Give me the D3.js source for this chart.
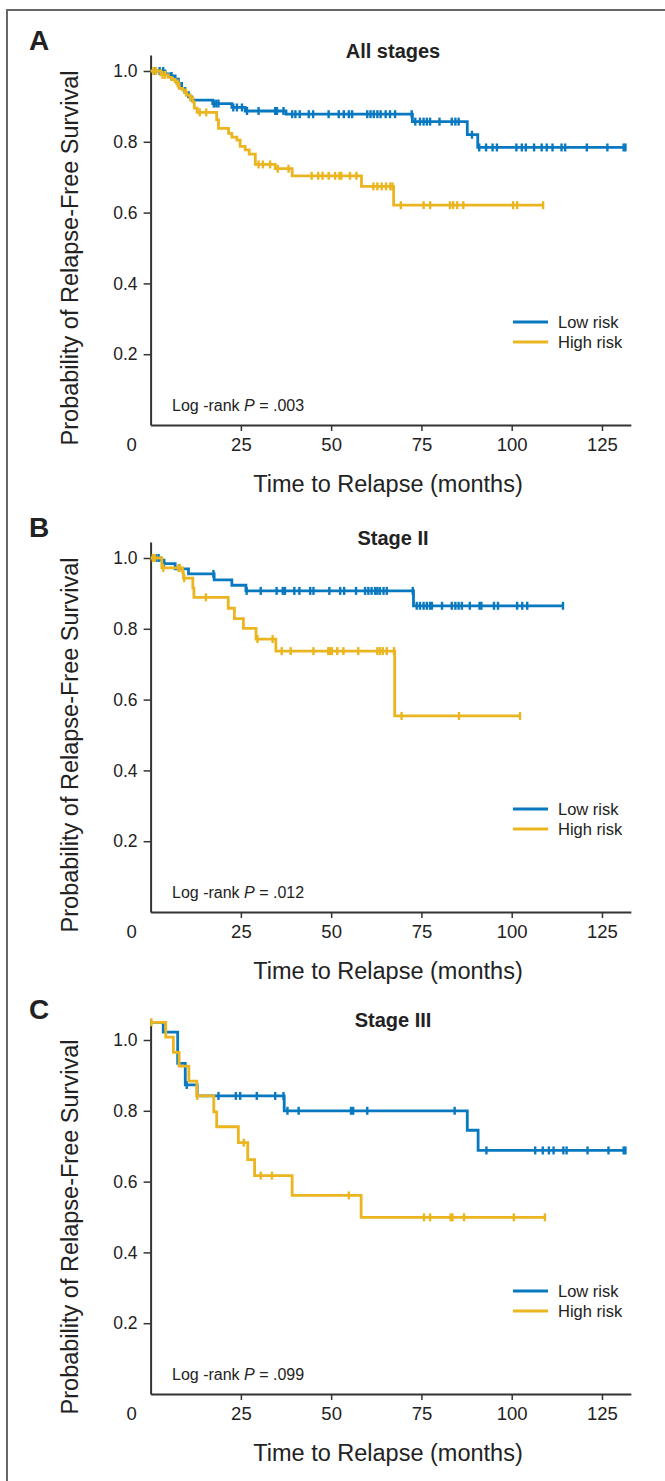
<!DOCTYPE html>
<html>
<head>
<meta charset="utf-8">
<script src="https://cdn.jsdelivr.net/npm/d3@7"></script>
<style>
body { margin: 0; background: #fff; }
svg { display: block; font-family: 'Liberation Sans', Arial, Helvetica, sans-serif; }
</style>
</head>
<body>
<div id="content"></div>
<script>
'use strict';

var xTicks = [25, 50, 75, 100, 125];
var yTicks = [0.2, 0.4, 0.6, 0.8, 1.0];
var seriesNames = ['Low risk', 'High risk'];
var panelLabels = ['A', 'B', 'C'];
var panelTitles = ['All stages', 'Stage II', 'Stage III'];
var pValues = ['.003', '.012', '.099'];
var startValues = [1.0, 1.0, 1.05];

// events: [month, survival after the drop]; censored: months
var allLowEvents = [[4.0, 0.992], [5.4, 0.986], [6.8, 0.977], [7.7, 0.965], [8.6, 0.951], [9.5, 0.939], [10.5, 0.927], [11.4, 0.918], [17.2, 0.908], [22.5, 0.897], [26.2, 0.887], [37.5, 0.878], [72.5, 0.857], [87.7, 0.82], [90.6, 0.784]];
var allLowCensored = [1.0, 2.5, 3.5, 5.8, 17.5, 18.2, 18.8, 22.9, 23.9, 25.3, 26.7, 29.9, 34.5, 35.0, 36.8, 39.2, 40.1, 41.3, 43.8, 45.0, 49.3, 52.1, 53.5, 54.9, 55.8, 60.0, 60.9, 61.8, 62.8, 63.7, 65.1, 66.3, 67.7, 72.3, 73.3, 74.6, 75.6, 76.5, 77.4, 80.0, 83.4, 84.4, 85.3, 89.0, 91.0, 92.9, 94.7, 95.9, 101.3, 102.8, 103.9, 106.2, 108.3, 109.7, 111.3, 113.8, 114.8, 120.8, 126.5, 131.0, 131.5];
var allHighEvents = [[2.8, 0.989], [4.9, 0.982], [5.8, 0.976], [6.8, 0.970], [7.2, 0.965], [7.9, 0.951], [8.9, 0.946], [9.5, 0.939], [10.0, 0.932], [10.9, 0.925], [11.7, 0.913], [12.1, 0.895], [12.9, 0.883], [18.3, 0.862], [18.8, 0.838], [21.6, 0.824], [22.5, 0.813], [23.9, 0.805], [24.8, 0.787], [26.2, 0.777], [27.3, 0.765], [29.0, 0.736], [34.5, 0.724], [39.2, 0.704], [58.4, 0.674], [67.3, 0.621]];
var allHighCensored = [0.8, 1.5, 3.3, 4.0, 7.5, 9.8, 11.0, 13.6, 15.4, 29.9, 31.1, 33.1, 35.2, 38.2, 44.6, 46.4, 47.6, 49.3, 51.1, 52.3, 52.8, 55.2, 57.0, 61.7, 62.8, 64.0, 65.2, 66.4, 67.0, 69.3, 75.6, 77.4, 82.9, 83.8, 84.9, 86.6, 100.4, 101.5, 108.7];

var stage2LowEvents = [[2.8, 0.994], [3.7, 0.984], [6.8, 0.969], [10.5, 0.955], [17.6, 0.938], [22.5, 0.923], [26.4, 0.907], [72.8, 0.865]];
var stage2LowCensored = [0.8, 1.5, 2.2, 3.7, 17.4, 26.6, 30.5, 34.9, 36.6, 37.2, 39.8, 41.2, 44.2, 45.1, 49.5, 52.5, 53.6, 56.9, 59.4, 60.3, 61.2, 62.2, 62.8, 63.5, 64.5, 65.4, 72.6, 73.7, 74.6, 75.6, 76.5, 77.4, 77.9, 80.7, 83.4, 84.4, 85.3, 86.2, 88.4, 91.1, 91.6, 95.1, 96.2, 101.5, 102.9, 104.3, 114.2];
var stage2HighEvents = [[3.1, 0.972], [8.9, 0.958], [9.1, 0.943], [11.7, 0.915], [12.0, 0.889], [21.5, 0.858], [23.2, 0.829], [25.7, 0.801], [29.2, 0.771], [34.7, 0.737], [67.6, 0.554]];
var stage2HighCensored = [0.6, 1.2, 3.5, 7.7, 8.1, 9.3, 15.3, 29.6, 33.8, 36.3, 38.8, 45.1, 49.2, 49.7, 50.2, 51.7, 53.4, 57.5, 62.8, 63.5, 64.3, 65.4, 67.4, 69.5, 85.4, 102.3];

var stage3LowEvents = [[3.5, 1.022], [7.5, 0.934], [9.6, 0.873], [12.9, 0.842], [37.0, 0.80], [87.7, 0.745], [90.7, 0.688]];
var stage3LowCensored = [10.0, 18.8, 23.6, 24.8, 29.4, 34.5, 36.8, 37.9, 41.0, 55.5, 56.1, 60.0, 84.2, 93.0, 106.5, 108.6, 110.3, 111.6, 114.3, 115.2, 121.0, 126.8, 131.0, 131.5];
var stage3HighEvents = [[4.2, 1.008], [6.3, 0.965], [7.9, 0.926], [10.6, 0.884], [12.8, 0.842], [17.5, 0.797], [18.3, 0.755], [24.3, 0.71], [26.9, 0.662], [28.8, 0.617], [39.2, 0.561], [58.3, 0.499]];
var stage3HighCensored = [0.2, 12.9, 25.8, 30.5, 33.6, 54.9, 75.7, 77.4, 83.1, 83.6, 86.8, 100.6, 109.2];

var colors = ['#0879c0', '#ebb520'];

function buildCurve(start, events, censored) {
    var points = [[0, start]].concat(events);
    var last = d3.max([d3.max(censored), events[events.length - 1][0]]);
    points.push([last, events[events.length - 1][1]]);
    var bisect = d3.bisector(function (d) { return d[0]; }).right;
    var marks = censored.map(function (t) {
        return [t, points[bisect(points, t) - 1][1]];
    });
    return { points: points, marks: marks };
}

function run() {
    var width = 665, height = 1481;
    var svg = d3.select('#content').append('svg')
        .attr('width', width)
        .attr('height', height);

    // frame
    svg.append('path')
        .attr('d', 'M7,' + height + 'V10H' + width)
        .attr('fill', 'none')
        .attr('stroke', '#666')
        .attr('stroke-width', 2);

    var panels = [
        { top: 71, yMax: 1.045, curves: [buildCurve(startValues[0], allLowEvents, allLowCensored), buildCurve(startValues[0], allHighEvents, allHighCensored)] },
        { top: 558, yMax: 1.045, curves: [buildCurve(startValues[1], stage2LowEvents, stage2LowCensored), buildCurve(startValues[1], stage2HighEvents, stage2HighCensored)] },
        { top: 1040, yMax: 1.06, curves: [buildCurve(startValues[2], stage3LowEvents, stage3LowCensored), buildCurve(startValues[2], stage3HighEvents, stage3HighCensored)] }
    ];

    var unit = 354;
    var x = d3.scaleLinear().domain([0, 133]).range([150.6, 150.6 + 133 * 3.611]);

    panels.forEach(function (p, i) {
        var y0 = p.top + unit;
        var y = d3.scaleLinear().domain([0, p.yMax]).range([y0, y0 - p.yMax * unit]);
        var g = svg.append('g');

        var xAxis = g.append('g')
            .attr('transform', 'translate(0 ' + y0 + ')')
            .call(d3.axisBottom(x).tickValues(xTicks).tickSize(6).tickSizeOuter(0).tickFormat(d3.format('d')));
        xAxis.selectAll('text').attr('y', 26).attr('dy', null);

        var yAxis = g.append('g')
            .attr('transform', 'translate(' + x(0) + ' 0)')
            .call(d3.axisLeft(y).tickValues(yTicks).tickSize(7).tickSizeOuter(0).tickPadding(6).tickFormat(d3.format('.1f')));

        [xAxis, yAxis].forEach(function (a) {
            a.attr('font-family', null).attr('font-size', null);
            a.select('.domain').attr('stroke', '#333').attr('stroke-width', 2);
            a.selectAll('.tick line').attr('stroke', '#333').attr('stroke-width', 1.5);
            a.selectAll('.tick text').style('font-size', '18.5px').attr('fill', '#222');
        });
        yAxis.selectAll('.tick text').style('font-size', '17.5px');

        g.append('text')
            .attr('x', x(0) - 19)
            .attr('y', y0 + 26)
            .attr('text-anchor', 'middle')
            .style('font-size', '18.5px')
            .attr('fill', '#222')
            .text('0');

        var line = d3.line()
            .curve(d3.curveStepAfter)
            .x(function (d) { return x(d[0]); })
            .y(function (d) { return y(d[1]); });

        p.curves.forEach(function (c, k) {
            g.append('path')
                .attr('d', line(c.points))
                .attr('fill', 'none')
                .attr('stroke', colors[k])
                .attr('stroke-width', 2.8);
            g.selectAll(null)
                .data(c.marks)
                .enter()
                .append('line')
                .attr('x1', function (d) { return x(d[0]); })
                .attr('x2', function (d) { return x(d[0]); })
                .attr('y1', function (d) { return y(d[1]) - 4; })
                .attr('y2', function (d) { return y(d[1]) + 4; })
                .attr('stroke', colors[k])
                .attr('stroke-width', 2.4);
        });

        g.append('text')
            .attr('x', 29)
            .attr('y', p.top - 21)
            .style('font-size', '28px')
            .style('font-weight', 'bold')
            .attr('fill', '#222')
            .text(panelLabels[i]);

        g.append('text')
            .attr('x', 393)
            .attr('y', p.top - 13)
            .attr('text-anchor', 'middle')
            .style('font-size', '20px')
            .style('font-weight', 'bold')
            .attr('fill', '#222')
            .text(panelTitles[i]);

        g.append('text')
            .attr('transform', 'translate(78 ' + (p.top + 187) + ') rotate(-90)')
            .attr('text-anchor', 'middle')
            .style('font-size', '23.5px')
            .attr('fill', '#222')
            .text('Probability of Relapse-Free Survival');

        g.append('text')
            .attr('x', 388)
            .attr('y', y0 + 67)
            .attr('text-anchor', 'middle')
            .style('font-size', '23.5px')
            .attr('fill', '#222')
            .text('Time to Relapse (months)');

        var lr = g.append('text')
            .attr('x', 172)
            .attr('y', y0 - 14)
            .style('font-size', '16px')
            .attr('fill', '#222');
        lr.append('tspan').text('Log -rank ');
        lr.append('tspan').style('font-style', 'italic').text('P');
        lr.append('tspan').text(' = ' + pValues[i]);

        seriesNames.forEach(function (name, k) {
            var ly = y0 - 103 + k * 20;
            g.append('line')
                .attr('x1', 513).attr('x2', 548)
                .attr('y1', ly).attr('y2', ly)
                .attr('stroke', colors[k])
                .attr('stroke-width', 3);
            g.append('text')
                .attr('x', 558)
                .attr('y', ly)
                .attr('dy', '0.35em')
                .style('font-size', '16.5px')
                .attr('fill', '#222')
                .text(name);
        });
    });
}

document.addEventListener('DOMContentLoaded', run);
</script>
</body>
</html>
